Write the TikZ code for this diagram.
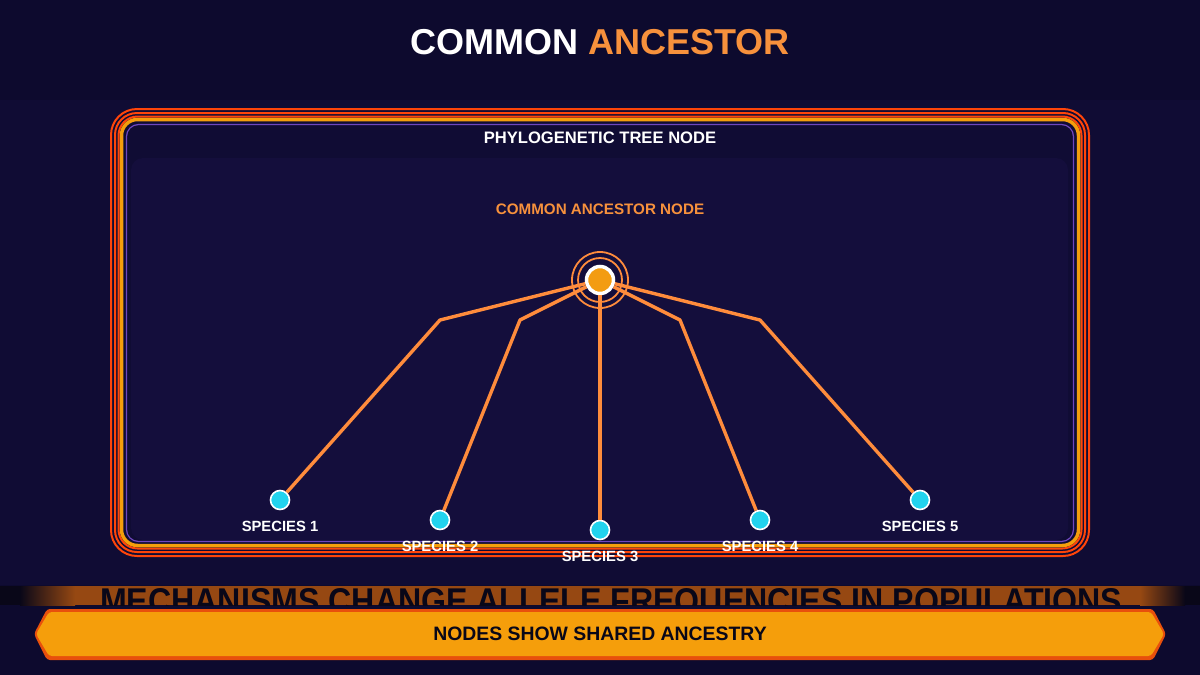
\documentclass[tikz,border=0pt]{standalone}
\usepackage{fontspec}
\setmainfont{Liberation Sans}
\setsansfont{Liberation Sans}
\usepackage{xcolor}
\usepackage{graphicx}
\usetikzlibrary{positioning, calc}
\definecolor{headbg}{RGB}{13, 10, 46}
\definecolor{bodybg}{RGB}{16, 12, 52}
\definecolor{panelbg}{RGB}{20, 14, 60}
\definecolor{framered}{RGB}{255, 69, 10}
\definecolor{frameorange}{RGB}{245, 158, 11}
\definecolor{framepurple}{RGB}{110, 70, 190}
\definecolor{ancorange}{RGB}{247, 145, 60}
\definecolor{branchorange}{RGB}{255, 140, 60}
\definecolor{rootfill}{RGB}{243, 156, 18}
\definecolor{speciescyan}{RGB}{34, 211, 238}
\definecolor{stripbrown}{RGB}{150, 72, 18}
\definecolor{stripdark}{RGB}{9, 7, 24}
\definecolor{bannerorange}{RGB}{245, 158, 11}
\definecolor{bannerred}{RGB}{232, 80, 12}
\tikzset{
  species/.style = {
    circle, fill=speciescyan, draw=white, line width=1.6pt,
    minimum size=19pt, inner sep=0pt
  },
  rootnode/.style = {
    circle, fill=rootfill, draw=white, line width=3.5pt,
    minimum size=27pt, inner sep=0pt
  },
  branch/.style = {draw=branchorange, line width=3.4pt, line join=round},
  ring/.style = {draw=branchorange, line width=1.8pt},
  lbl/.style = {font=\bfseries\fontsize{14.8}{16}\selectfont, text=white,
    inner sep=0pt},
}

\begin{document}
\begin{tikzpicture}[x=1pt, y=-1pt]
  \useasboundingbox (0,0) rectangle (1200,675);

  % backgrounds
  \fill[headbg] (0,0) rectangle (1200,675);
  \fill[bodybg] (0,100) rectangle (1200,585);
  \fill[panelbg, rounded corners=12pt] (131,158) rectangle (1068,540);

  % title
  \node[font=\bfseries\fontsize{36}{42}\selectfont, inner sep=0pt]
    (title) at (600,42)
    {\textcolor{white}{COMMON} \textcolor{ancorange}{ANCESTOR}};

  % frame
  \draw[framered, line width=2pt, rounded corners=26pt]
    (111,109) rectangle (1089,556);
  \draw[framered, line width=2pt, rounded corners=22pt]
    (115,113) rectangle (1085,552);
  \draw[framered, line width=2pt, rounded corners=19pt]
    (118.5,116.5) rectangle (1081.5,548.5);
  \draw[frameorange, line width=3.5pt, rounded corners=16pt]
    (121.5,119.5) rectangle (1078.5,545.5);
  \draw[framepurple, line width=1.2pt, rounded corners=12pt]
    (126.5,124.5) rectangle (1073.5,541.5);

  \node[font=\bfseries\fontsize{16.6}{18}\selectfont, text=white,
    inner sep=0pt] (frametitle) at (600,138) {PHYLOGENETIC TREE NODE};
  \node[font=\bfseries\fontsize{15.2}{17}\selectfont, text=ancorange,
    inner sep=0pt] (roottitle) at (600,209) {COMMON ANCESTOR NODE};

  % tree
  \draw[ring] (600,280) circle (28);
  \draw[ring] (600,280) circle (22);
  \node[rootnode] (root) at (600,280) {};

  \coordinate (b1) at (440,320);
  \coordinate (b2) at (520,320);
  \coordinate (b4) at (680,320);
  \coordinate (b5) at (760,320);

  \node[species] (s1) at (280,500) {};
  \node[species] (s2) at (440,520) {};
  \node[species] (s3) at (600,530) {};
  \node[species] (s4) at (760,520) {};
  \node[species] (s5) at (920,500) {};

  \node[lbl, below=11pt of s1] (l1) {SPECIES 1};
  \node[lbl, below=11pt of s2] (l2) {SPECIES 2};
  \node[lbl, below=11pt of s3] (l3) {SPECIES 3};
  \node[lbl, below=11pt of s4] (l4) {SPECIES 4};
  \node[lbl, below=11pt of s5] (l5) {SPECIES 5};

  \draw[branch] (root) -- (b1) -- (s1);
  \draw[branch] (root) -- (b2) -- (s2);
  \draw[branch] (root) -- (s3);
  \draw[branch] (root) -- (b4) -- (s4);
  \draw[branch] (root) -- (b5) -- (s5);

  % textured strip
  \fill[stripdark] (0,586) rectangle (1200,605);
  \fill[left color=stripdark, right color=stripbrown]
    (20,586) rectangle (75,605);
  \fill[stripbrown] (75,586) rectangle (1140,605);
  \fill[left color=stripbrown, right color=stripdark]
    (1140,586) rectangle (1185,605);
  \begin{scope}
    \clip (0,586) rectangle (1200,605);
    \node[anchor=north west, inner sep=0pt, text=stripdark] (strip)
      at (100,588)
      {\raisebox{-9pt}[16pt][0pt]{\resizebox{1022pt}{25pt}{\bfseries MECHANISMS CHANGE ALLELE FREQUENCIES IN POPULATIONS}}};
  \end{scope}

  % banner
  \fill[bannerred, rounded corners=3pt]
    (47,609) -- (1153,609) -- (1166,634) -- (1153,660) -- (47,660)
    -- (34,634) -- cycle;
  \fill[bannerorange, rounded corners=3pt]
    (49,612) -- (1151,612) -- (1164,634) -- (1151,656) -- (49,656)
    -- (36,634) -- cycle;
  \node[font=\bfseries\fontsize{19.4}{22}\selectfont, text=stripdark,
    inner sep=0pt] (banner) at (600,634) {NODES SHOW SHARED ANCESTRY};
\end{tikzpicture}
\end{document}
